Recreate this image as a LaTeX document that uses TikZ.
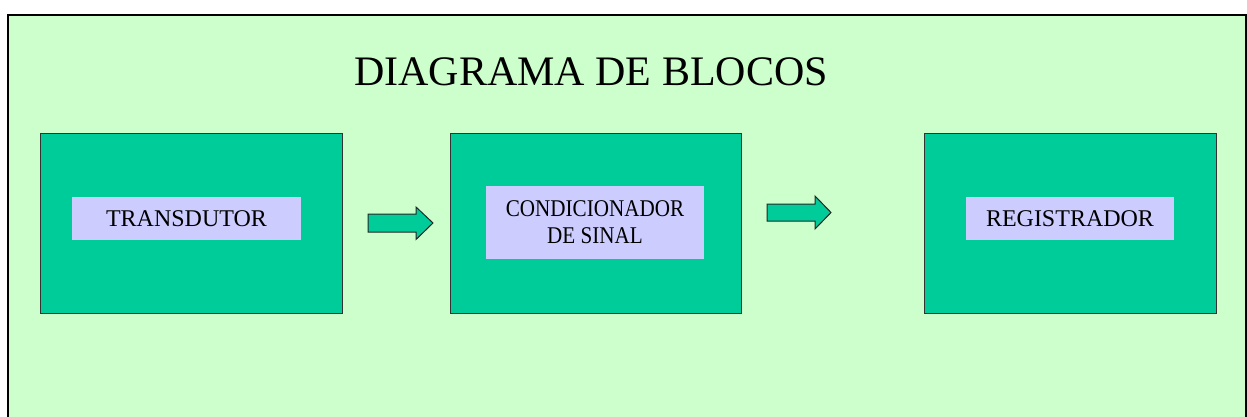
\documentclass[tikz,border=0pt]{standalone}
\usepackage{fontspec}
\setmainfont{Liberation Serif}
\usetikzlibrary{calc}
\definecolor{bgreen}{HTML}{CCFFCC}
\definecolor{boxgreen}{HTML}{00CC99}
\definecolor{lilac}{HTML}{CCCCFF}
\definecolor{edge}{HTML}{333333}
\tikzset{
  block/.style={draw=edge, line width=1pt, fill=boxgreen, inner sep=0pt, anchor=north west},
  label/.style={fill=lilac, inner sep=0pt, align=center, font=\fontsize{24}{27}\selectfont},
  blockarrow/.style={draw=black!85, line width=1pt, fill=boxgreen, line join=miter},
}
\begin{document}
\begin{tikzpicture}[x=1pt,y=-1pt]
\useasboundingbox (0,0) rectangle (1247,416);
\fill[white] (0,0) rectangle (1247,416);
\draw[line width=2.5pt, fill=bgreen] (8,15) rectangle (1246,440);
\node[anchor=base, font=\fontsize{42}{48}\selectfont] (title) at (591,85) {DIAGRAMA DE BLOCOS};
% blocks
\node[block, minimum width=302pt, minimum height=180pt] (b1) at (40,133) {};
\node[block, minimum width=291pt, minimum height=180pt] (b2) at (450,133) {};
\node[block, minimum width=292pt, minimum height=180pt] (b3) at (924,133) {};
% labels
\node[label, minimum width=229pt, minimum height=43pt] (l1) at (186.5,218.5) {TRANSDUTOR};
\node[label, minimum width=218pt, minimum height=73pt] (l2) at (595,222.5) {\scalebox{0.88}[1]{CONDICIONADOR}\\\scalebox{0.88}[1]{DE SINAL}};
\node[label, minimum width=208pt, minimum height=43pt] (l3) at (1070,218.5) {REGISTRADOR};
% arrows
\coordinate (a1) at (368,223);
\coordinate (a2) at (767,212.5);
\draw[blockarrow] ($(a1)+(0,-9)$) -- ++(48,0) -- ++(0,-7) -- ($(a1)+(65,0)$) -- ($(a1)+(48,16.5)$) -- ++(0,-7.5) -- ($(a1)+(0,9)$) -- cycle;
\draw[blockarrow] ($(a2)+(0,-8.5)$) -- ++(48,0) -- ++(0,-8) -- ($(a2)+(64,0)$) -- ($(a2)+(48,16.5)$) -- ++(0,-8) -- ($(a2)+(0,8.5)$) -- cycle;
\end{tikzpicture}
\end{document}
